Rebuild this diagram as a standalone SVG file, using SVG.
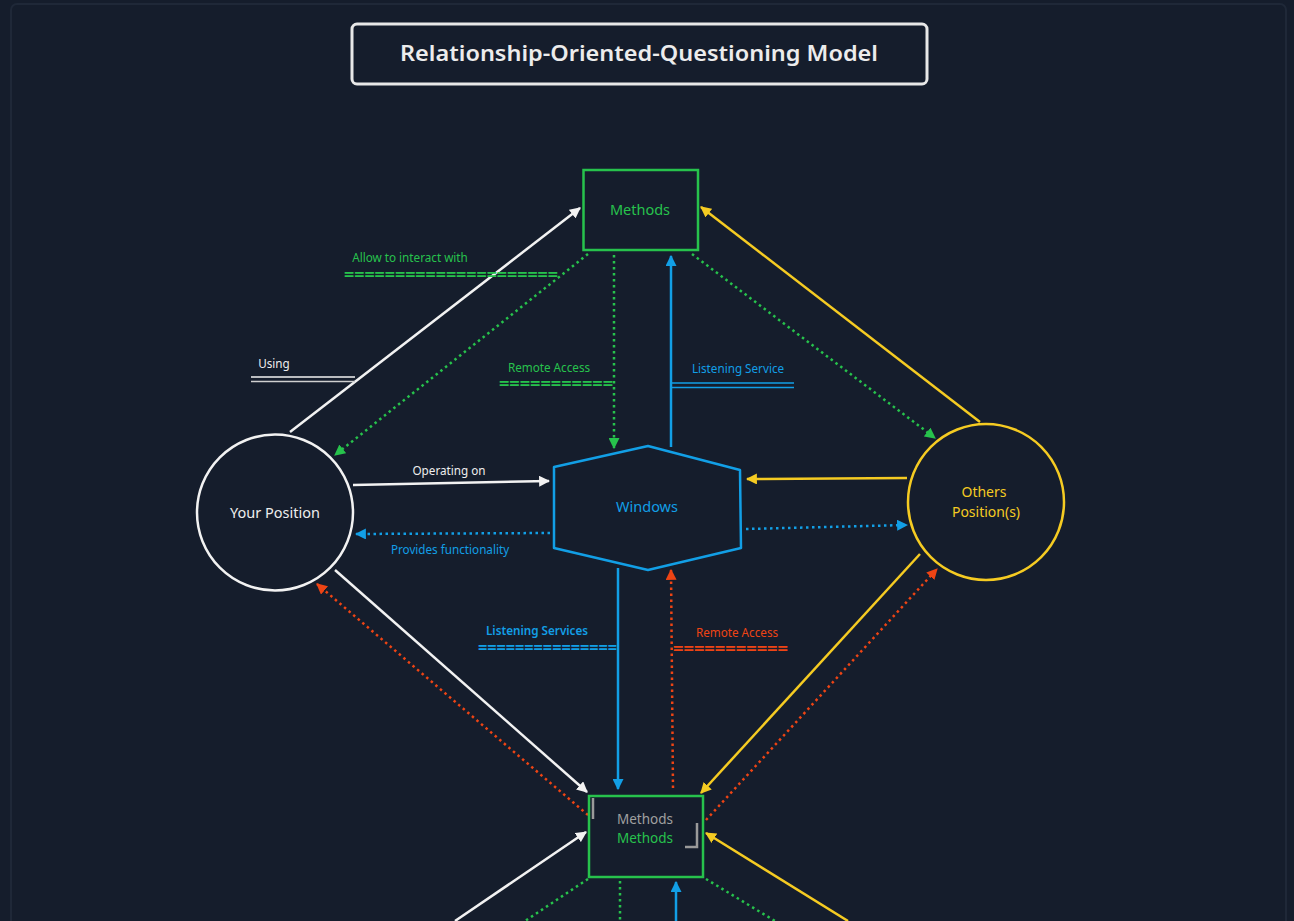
<svg xmlns="http://www.w3.org/2000/svg" width="1294" height="921" viewBox="0 0 1294 921">
<style>
text{font-family:"Noto Sans","Open Sans","DejaVu Sans",sans-serif}
.lbl{font-size:11.7px}
.eq{font-size:15px;font-weight:700;font-family:"DejaVu Sans Mono","Liberation Mono",monospace}
.g{fill:#27c24c}.b{fill:#129fe6}.y{fill:#f5cb22}.r{fill:#ee4414}.w{fill:#eeeeee}
.sw{stroke:#f2f2f2}.sg{stroke:#27c24c}.sb{stroke:#129fe6}.sy{stroke:#f5cb22}.sr{stroke:#ee4414}
.solid{fill:none;stroke-width:2.5}
.dot{fill:none;stroke-width:2.5;stroke-dasharray:2.5 3.5}
</style>
<defs>
<marker id="aw" viewBox="0 0 10 10" refX="9" refY="5" markerWidth="11" markerHeight="11" markerUnits="userSpaceOnUse" orient="auto"><path d="M0,0 L10,5 L0,10 z" fill="#f2f2f2"/></marker>
<marker id="ag" viewBox="0 0 10 10" refX="9" refY="5" markerWidth="11" markerHeight="11" markerUnits="userSpaceOnUse" orient="auto"><path d="M0,0 L10,5 L0,10 z" fill="#27c24c"/></marker>
<marker id="ab" viewBox="0 0 10 10" refX="9" refY="5" markerWidth="11" markerHeight="11" markerUnits="userSpaceOnUse" orient="auto"><path d="M0,0 L10,5 L0,10 z" fill="#129fe6"/></marker>
<marker id="ay" viewBox="0 0 10 10" refX="9" refY="5" markerWidth="11" markerHeight="11" markerUnits="userSpaceOnUse" orient="auto"><path d="M0,0 L10,5 L0,10 z" fill="#f5cb22"/></marker>
<marker id="ar" viewBox="0 0 10 10" refX="9" refY="5" markerWidth="11" markerHeight="11" markerUnits="userSpaceOnUse" orient="auto"><path d="M0,0 L10,5 L0,10 z" fill="#ee4414"/></marker>
</defs>
<rect width="1294" height="921" fill="#151d2c"/>
<rect x="11" y="4" width="1275" height="940" rx="6" fill="#151d2c" stroke="#1f2838" stroke-width="2"/>

<g id="title">
<rect x="352" y="24" width="575" height="60" rx="5" fill="#151d2c" stroke="#e8e8e8" stroke-width="3"/>
<text x="639" y="61" text-anchor="middle" font-size="22" font-weight="600" fill="#ececec" textLength="478" lengthAdjust="spacingAndGlyphs">Relationship-Oriented-Questioning Model</text>
</g>

<g id="connectors">
<line x1="290" y1="432" x2="580" y2="208" class="solid sw" marker-end="url(#aw)"/>
<line x1="588" y1="254" x2="335" y2="455" class="dot sg" marker-end="url(#ag)"/>
<line x1="614" y1="255" x2="614" y2="448" class="dot sg" marker-end="url(#ag)"/>
<line x1="671" y1="447" x2="671" y2="256" class="solid sb" marker-end="url(#ab)"/>
<line x1="692" y1="254" x2="935" y2="438" class="dot sg" marker-end="url(#ag)"/>
<line x1="980" y1="422" x2="701" y2="207" class="solid sy" marker-end="url(#ay)"/>
<line x1="353" y1="485" x2="549" y2="481" class="solid sw" marker-end="url(#aw)"/>
<line x1="550" y1="533" x2="356" y2="534" class="dot sb" marker-end="url(#ab)"/>
<line x1="907" y1="478" x2="747" y2="479" class="solid sy" marker-end="url(#ay)"/>
<line x1="746" y1="529" x2="907" y2="525" class="dot sb" marker-end="url(#ab)"/>
<line x1="335" y1="570" x2="587" y2="792" class="solid sw" marker-end="url(#aw)"/>
<line x1="588" y1="815" x2="317" y2="584" class="dot sr" marker-end="url(#ar)"/>
<line x1="618" y1="568" x2="618" y2="789" class="solid sb" marker-end="url(#ab)"/>
<line x1="673" y1="788" x2="671" y2="570" class="dot sr" marker-end="url(#ar)"/>
<line x1="920" y1="554" x2="701" y2="793" class="solid sy" marker-end="url(#ay)"/>
<line x1="706" y1="820" x2="937" y2="569" class="dot sr" marker-end="url(#ar)"/>
<line x1="455" y1="921" x2="586" y2="832" class="solid sw" marker-end="url(#aw)"/>
<line x1="848" y1="921" x2="706" y2="833" class="solid sy" marker-end="url(#ay)"/>
<line x1="588" y1="879" x2="525" y2="921" class="dot sg"/>
<line x1="620" y1="881" x2="620" y2="921" class="dot sg"/>
<line x1="676" y1="921" x2="676" y2="882" class="solid sb" marker-end="url(#ab)"/>
<line x1="706" y1="879" x2="775" y2="921" class="dot sg"/>
</g>

<g id="labels">
<text x="410" y="262" text-anchor="middle" class="lbl g">Allow to interact with</text>
<text x="344" y="279" class="eq g" textLength="214" lengthAdjust="spacingAndGlyphs">=====================</text>
<text x="549" y="372" text-anchor="middle" class="lbl g">Remote Access</text>
<text x="499" y="388" class="eq g" textLength="114" lengthAdjust="spacingAndGlyphs">===========</text>
<text x="274" y="368" text-anchor="middle" class="lbl w">Using</text>
<line x1="251" y1="377" x2="355" y2="377" stroke="#f2f2f2" stroke-width="1.5"/>
<line x1="251" y1="381.5" x2="355" y2="381.5" stroke="#cfcfcf" stroke-width="1.5"/>
<text x="738" y="373" text-anchor="middle" class="lbl b">Listening Service</text>
<line x1="671" y1="383" x2="794" y2="383" stroke="#129fe6" stroke-width="1.5"/>
<line x1="671" y1="387.5" x2="794" y2="387.5" stroke="#129fe6" stroke-width="1.5"/>
<text x="449" y="475" text-anchor="middle" class="lbl w">Operating on</text>
<text x="450" y="554" text-anchor="middle" class="lbl b">Provides functionality</text>
<text x="537" y="635" text-anchor="middle" class="lbl b" font-weight="600">Listening Services</text>
<text x="478" y="652" class="eq b" textLength="139" lengthAdjust="spacingAndGlyphs">===============</text>
<text x="737" y="637" text-anchor="middle" class="lbl r">Remote Access</text>
<text x="673" y="653" class="eq r" textLength="115" lengthAdjust="spacingAndGlyphs">===========</text>
</g>

<g id="methods-top">
<rect x="583.5" y="170" width="114.5" height="80" fill="#151d2c" stroke="#27c24c" stroke-width="2.5"/>
<text x="640" y="215" text-anchor="middle" font-size="14.5" class="g">Methods</text>
</g>

<g id="your-position">
<circle cx="275" cy="512.5" r="78" fill="#151d2c" stroke="#f2f2f2" stroke-width="2.5"/>
<text x="275" y="518" text-anchor="middle" font-size="14.5" class="w">Your Position</text>
</g>

<g id="windows">
<path d="M648,446 L740,470 L741,548 L648,570 L554,548 L554,467 Z" fill="#151d2c" stroke="#129fe6" stroke-width="2.5" stroke-linejoin="round"/>
<text x="647" y="512" text-anchor="middle" font-size="14.5" class="b">Windows</text>
</g>

<g id="others-position">
<circle cx="986" cy="502" r="78" fill="#151d2c" stroke="#f5cb22" stroke-width="2.5"/>
<text x="984" y="497" text-anchor="middle" font-size="14" class="y">Others</text>
<text x="986" y="517" text-anchor="middle" font-size="14" class="y">Position(s)</text>
</g>

<g id="methods-bottom">
<rect x="589" y="796" width="114" height="81" fill="#151d2c" stroke="#27c24c" stroke-width="2.5"/>
<line x1="593" y1="798" x2="593" y2="819" stroke="#9a9a9a" stroke-width="2.5"/>
<polyline points="685,847 697,847 697,823" fill="none" stroke="#9a9a9a" stroke-width="2.5"/>
<text x="645" y="824" text-anchor="middle" font-size="13.5" fill="#a0a0a0">Methods</text>
<text x="645" y="843" text-anchor="middle" font-size="13.5" class="g">Methods</text>
</g>
</svg>
